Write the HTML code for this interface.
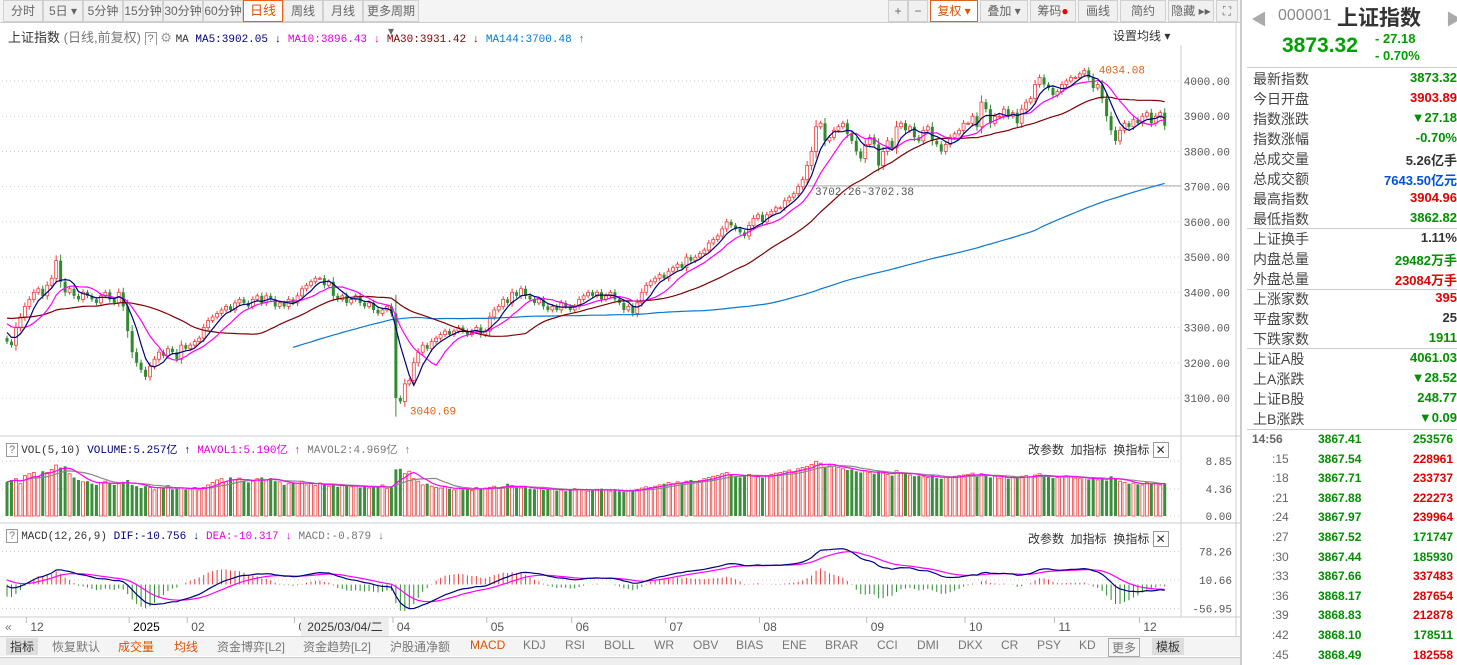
<!DOCTYPE html>
<html><head><meta charset="utf-8"><style>
*{margin:0;padding:0;box-sizing:border-box}
body{width:1457px;height:665px;overflow:hidden;background:#fff;font-family:"Liberation Sans","Noto Sans CJK SC",sans-serif;position:relative;color:#333}
.abs{position:absolute}
.tab{position:absolute;top:0;height:22px;border:1px solid #d0d0d0;background:#f0f0f0;font-size:12px;color:#666;text-align:center;line-height:20px}
.mono{font-family:"Liberation Mono","Noto Sans CJK SC",monospace}
.rp{position:absolute;left:1253px;font-size:14px;color:#444}
.bt{position:absolute;top:638px;font-size:12px;color:#777}
</style></head><body>
<div class="abs" style="left:0;top:0;width:1240px;height:23px;background:#f4f4f4;border-bottom:1px solid #ccc"></div>
<div class="tab" style="left:3px;width:40px">分时</div>
<div class="tab" style="left:43px;width:40px">5日 ▾</div>
<div class="tab" style="left:83px;width:40px">5分钟</div>
<div class="tab" style="left:123px;width:40px">15分钟</div>
<div class="tab" style="left:163px;width:40px">30分钟</div>
<div class="tab" style="left:203px;width:40px">60分钟</div>
<div class="tab" style="left:243px;width:40px;background:#fff;border:1px solid #f06010;color:#e05000;font-size:13px">日线</div>
<div class="tab" style="left:283px;width:40px">周线</div>
<div class="tab" style="left:323px;width:40px">月线</div>
<div class="tab" style="left:363px;width:56px">更多周期 ▾</div>
<div class="tab" style="left:888px;width:20px">+</div>
<div class="tab" style="left:908px;width:20px">−</div>
<div class="tab" style="left:930px;width:48px;background:#fff;color:#e05000;border-color:#e06020">复权 ▾</div>
<div class="tab" style="left:980px;width:48px">叠加 ▾</div>
<div class="tab" style="left:1030px;width:46px">筹码<span style="color:#e00">●</span></div>
<div class="tab" style="left:1078px;width:40px">画线</div>
<div class="tab" style="left:1120px;width:46px">简约</div>
<div class="tab" style="left:1168px;width:46px">隐藏 ▸▸</div>
<div class="tab" style="left:1216px;width:22px">⛶</div>

<div class="abs" style="left:8px;top:27px;font-size:13px;white-space:nowrap">上证指数 <span style="color:#777">(日线,前复权)</span> <span style="border:1px solid #999;color:#777;padding:0 2px;font-size:11px">?</span> <span style="color:#999">⚙</span> <span class="mono" style="font-size:11px">MA <span style="color:#000080">MA5:3902.05 ↓</span> <span style="color:#e000e0">MA10:3896.43 ↓</span> <span style="color:#800000">MA30:3931.42 ↓</span> <span style="color:#0078d7">MA144:3700.48 ↑</span></span></div>
<div class="abs" style="left:1113px;top:27px;font-size:12px">设置均线 ▾</div>

<svg id="chart" class="abs" style="left:0;top:0" width="1240" height="665"></svg>

<div class="abs" style="left:6px;top:441px;font-size:11px;white-space:nowrap" ><span style="border:1px solid #999;color:#777;padding:0 2px">?</span> <span class="mono">VOL(5,10) <span style="color:#000080">VOLUME:5.257亿 ↑</span> <span style="color:#e000e0">MAVOL1:5.190亿 ↑</span> <span style="color:#777">MAVOL2:4.969亿 ↑</span></span></div>
<div class="abs" style="left:1028px;top:441px;font-size:12px">改参数 &nbsp;加指标 &nbsp;换指标 <span style="border:1px solid #999;padding:0 2px">✕</span></div>
<div class="abs" style="left:6px;top:530px;font-size:11px;white-space:nowrap"><span style="border:1px solid #999;color:#777;padding:0 2px">?</span> <span class="mono">MACD(12,26,9) <span style="color:#000080">DIF:-10.756 ↓</span> <span style="color:#e000e0">DEA:-10.317 ↓</span> <span style="color:#777">MACD:-0.879 ↓</span></span></div>
<div class="abs" style="left:1028px;top:530px;font-size:12px">改参数 &nbsp;加指标 &nbsp;换指标 <span style="border:1px solid #999;padding:0 2px">✕</span></div>
<div class="abs" style="left:301px;top:618px;width:88px;height:18px;background:#eee;font-size:12px;line-height:18px;text-align:center">2025/03/04/二</div>

<div class="abs" style="left:0;top:636px;width:1240px;height:20px;background:#f4f4f4;border-top:1px solid #ccc"></div>
<div class="bt" style="left:6px;background:#ddd;padding:0 4px;color:#333">指标</div>
<div class="bt" style="left:52px">恢复默认</div>
<div class="bt" style="left:118px;color:#e05000">成交量</div>
<div class="bt" style="left:174px;color:#e05000">均线</div>
<div class="bt" style="left:217px">资金博弈[L2]</div>
<div class="bt" style="left:303px">资金趋势[L2]</div>
<div class="bt" style="left:390px">沪股通净额</div>
<div class="bt" style="left:470px;color:#e05000">MACD</div>
<div class="bt" style="left:523px">KDJ</div>
<div class="bt" style="left:565px">RSI</div>
<div class="bt" style="left:604px">BOLL</div>
<div class="bt" style="left:654px">WR</div>
<div class="bt" style="left:693px">OBV</div>
<div class="bt" style="left:736px">BIAS</div>
<div class="bt" style="left:782px">ENE</div>
<div class="bt" style="left:825px">BRAR</div>
<div class="bt" style="left:877px">CCI</div>
<div class="bt" style="left:917px">DMI</div>
<div class="bt" style="left:958px">DKX</div>
<div class="bt" style="left:1001px">CR</div>
<div class="bt" style="left:1037px">PSY</div>
<div class="bt" style="left:1079px">KD</div>
<div class="bt" style="left:1108px;border:1px solid #aaa;padding:0 3px">更多</div>
<div class="bt" style="left:1152px;background:#ddd;padding:0 4px;color:#333">模板</div>
<div class="abs" style="left:0;top:657px;width:1240px;height:8px;background:#eee;border-top:1px solid #ccc"></div>

<div class="abs" style="left:1240px;top:0;width:217px;height:665px;border-left:2px solid #ccc;background:#fff"></div>
<div class="abs" style="left:1251px;top:6px;color:#aaa;font-size:16px">◀</div>
<div class="abs" style="left:1278px;top:7px;font-size:16px;color:#888">000001</div>
<div class="abs" style="left:1337px;top:2px;font-size:21px;font-weight:bold;color:#333">上证指数</div>
<div class="abs" style="left:1446px;top:6px;color:#aaa;font-size:16px">▶</div>
<div class="abs" style="left:1282px;top:34px;font-size:21px;font-weight:bold;color:#00a000">3873.32</div>
<div class="abs" style="left:1375px;top:30px;font-size:13px;font-weight:bold;color:#00a000;line-height:17px">- 27.18<br>- 0.70%</div>
<div id="rp"></div>
<script>
// ---------------- data ----------------
const monthLabels=["12","2025","02","03","04","05","06","07","08","09","10","11","12"];
const monthStartIdx=[5,28,41,65,87,108,127,148,169,193,215,235,254];
const preCloses=[2850,2860,2840,2870,2880,2860,2850,2870,2890,2880,2860,2850,2870,2880,2890,2870,2860,2880,2900,2890,2880,2870,2890,2900,2920,2950,3000,3080,3200,3330,3480,3400,3300,3260,3250,3280,3300,3320,3280,3260,3250,3270,3300,3310,3290,3270,3260,3290,3310,3320,3300,3280,3270,3290,3330,3350,3360,3340,3320,3300,3310,3330,3350,3370,3360,3340,3330,3350,3370,3380,3360,3340,3320,3330,3350,3340,3320,3300,3280,3270];
const closes=[3260,3250,3300,3330,3360,3380,3400,3410,3390,3420,3440,3490,3430,3400,3410,3390,3380,3400,3390,3380,3370,3390,3400,3380,3370,3400,3360,3290,
3230,3200,3180,3160,3190,3210,3230,3220,3240,3230,3210,3250,3240,
3250,3260,3270,3300,3320,3330,3340,3350,3360,3350,3370,3380,3370,3360,3380,3390,3370,3390,3380,3360,3370,3360,3380,3370,
3390,3410,3420,3430,3440,3440,3420,3430,3390,3380,3390,3370,3380,3390,3370,3360,3370,3350,3340,3350,3360,3340,
3100,3090,3140,3150,3200,3230,3250,3240,3260,3270,3280,3290,3280,3290,3300,3290,3280,3290,3300,3280,3290,
3330,3350,3360,3380,3370,3400,3390,3410,3390,3380,3370,3380,3360,3350,3360,3350,3370,3360,3350,
3360,3380,3390,3400,3390,3400,3380,3390,3400,3380,3370,3350,3360,3340,3370,3400,3420,3430,3440,3450,3440,
3460,3470,3480,3470,3500,3490,3500,3510,3520,3540,3550,3560,3580,3600,3590,3580,3570,3560,3590,3610,3620,
3600,3620,3630,3640,3640,3660,3670,3680,3700,3720,3760,3800,3870,3880,3830,3840,3860,3870,3880,3850,3830,3800,3780,3820,
3840,3820,3760,3800,3830,3810,3870,3880,3860,3870,3840,3830,3860,3870,3830,3820,3800,3820,3840,3850,3860,3880,
3880,3900,3870,3940,3920,3880,3900,3900,3920,3900,3910,3880,3920,3940,3950,3990,4010,3990,3980,3960,
3970,3990,4000,4010,4010,4020,4030,4010,3980,3990,3950,3900,3860,3830,3860,3880,3870,3890,3880,
3900,3910,3880,3900,3910,3873];
const volumes=[5.5,5.8,6.0,5.2,6.5,6.8,7.0,6.3,7.2,7.0,7.5,8.2,7.8,8.0,6.8,6.2,5.8,5.5,5.6,5.2,5.0,5.4,5.6,5.3,5.0,5.2,5.5,5.8,
5.0,4.8,4.5,4.8,4.6,4.2,4.6,4.5,4.9,4.3,4.4,4.5,4.3,
4.4,4.6,4.2,4.6,5.0,5.4,5.8,6.0,5.5,6.2,5.8,6.1,5.7,5.4,5.6,6.0,6.2,5.8,6.1,5.6,5.5,5.0,5.2,5.3,
5.3,5.6,5.0,5.2,4.9,5.3,5.0,4.8,5.1,4.7,4.9,5.0,4.7,4.8,4.6,4.9,4.5,4.7,4.6,5.0,4.4,4.6,
7.5,7.6,6.8,7.2,6.0,5.6,5.0,5.2,4.8,4.6,4.5,4.7,4.4,4.2,4.5,4.3,4.4,4.1,4.6,4.3,4.5,
4.6,4.8,4.4,4.7,5.2,4.9,4.6,4.5,4.7,4.4,4.3,4.5,4.2,4.3,4.4,4.1,4.2,4.0,4.3,
4.4,4.3,4.2,4.0,4.1,4.3,4.4,4.2,4.0,4.1,4.0,3.9,4.1,4.2,4.3,4.5,4.7,4.6,4.8,5.0,5.2,
5.4,5.2,5.5,5.3,5.6,5.8,5.5,5.7,6.0,6.2,6.4,6.5,6.8,7.0,6.6,6.4,6.2,6.5,6.7,6.4,6.3,
6.2,6.5,6.7,6.9,7.0,7.2,7.4,7.0,7.6,7.8,8.0,8.3,8.8,8.5,7.9,8.2,8.0,7.8,7.6,7.4,7.5,7.2,7.0,7.3,
7.0,6.8,7.2,6.9,6.7,6.5,7.3,7.0,6.8,6.6,6.4,6.5,6.3,6.2,6.6,6.1,6.0,6.3,6.2,6.4,6.5,6.6,
6.7,6.9,6.3,6.8,6.6,6.2,6.4,6.1,6.3,6.0,6.2,6.1,6.4,6.5,6.3,6.6,6.8,6.5,6.3,6.1,
6.2,6.4,6.5,6.3,6.1,6.0,6.2,5.9,6.1,5.8,6.0,5.7,6.4,6.1,5.6,5.4,5.2,5.3,5.1,
5.0,5.4,5.2,5.3,5.0,5.26];
const priceTicks=[4000,3900,3800,3700,3600,3500,3400,3300,3200,3100];
const volTicks=[8.85,4.36,0];
const macdTicks=[78.26,10.66,-56.95];
const quoteLabels=["最新指数","今日开盘","指数涨跌","指数涨幅","总成交量","总成交额","最高指数","最低指数","上证换手","内盘总量","外盘总量","上涨家数","平盘家数","下跌家数","上证A股","上A涨跌","上证B股","上B涨跌"];
const quoteValues=["3873.32","3903.89","▼27.18","-0.70%","5.26亿手","7643.50亿元","3904.96","3862.82","1.11%","29482万手","23084万手","395","25","1911","4061.03","▼28.52","248.77","▼0.09"];
const quoteColors=["g","r","g","g","k","b","r","g","k","g","r","r","k","g","g","g","g","g"];
const tickTimes=["14:56",":15",":18",":21",":24",":27",":30",":33",":36",":39",":42",":45"];
const tickPrices=["3867.41","3867.54","3867.71","3867.88","3867.97","3867.52","3867.44","3867.66","3868.17","3868.83","3868.10","3868.49"];
const tickVols=["253576","228961","233737","222273","239964","171747","185930","337483","287654","212878","178511","182558"];
const tickVolColors=["g","r","r","r","r","g","g","r","r","r","g","r"];

// ---------------- drawing ----------------
const NS="http://www.w3.org/2000/svg";
const svg=document.getElementById('chart');
function el(tag,attrs,parent){const e=document.createElementNS(NS,tag);for(const k in attrs)e.setAttribute(k,attrs[k]);(parent||svg).appendChild(e);return e;}
const X=i=>7+i*4.47;
const PY=p=>81+(4000-p)*0.3522;
const VY=v=>516-v*(55/8.85);
const MY=m=>584.5-m*0.4216;
const RED="#f03c3c",GRN="#2e8b2e";

const fr=el('rect',{x:1,y:45,width:1180,height:572,fill:"#fff",stroke:"none"});


[[0,1181],[1181,1181]].forEach(a=>{const l=el('line',{x1:a[1],y1:45,x2:a[1],y2:617,stroke:"#ccc"});});
[436,523,617].forEach(y=>{const l=el('line',{x1:0,y1:y,x2:1240,y2:y,stroke:"#ccc"});});
const vsep=el('line',{x1:1236,y1:23,x2:1236,y2:636,stroke:"#ccc"});



priceTicks.forEach(p=>{
  const g=el('line',{x1:2,y1:PY(p),x2:1181,y2:PY(p),stroke:"#ccc","stroke-dasharray":"1,3"});
  
  
  const t=el('text',{x:1230,y:PY(p)+4,"font-size":11,fill:"#555","text-anchor":"end","font-family":"Liberation Mono"});
  t.textContent=p.toFixed(2);
  
  
});
volTicks.forEach(v=>{
  const g=el('line',{x1:2,y1:VY(v),x2:1181,y2:VY(v),stroke:"#ccc","stroke-dasharray":"1,3"});
  
  
  const t=el('text',{x:1232,y:VY(v)+4,"font-size":11,fill:"#555","text-anchor":"end","font-family":"Liberation Mono"});
  t.textContent=v.toFixed(2);
  
  
});
macdTicks.forEach(v=>{
  const g=el('line',{x1:2,y1:MY(v),x2:1181,y2:MY(v),stroke:"#ccc","stroke-dasharray":"1,3"});
  
  
  const t=el('text',{x:1232,y:MY(v)+4,"font-size":11,fill:"#555","text-anchor":"end","font-family":"Liberation Mono"});
  t.textContent=v.toFixed(2);
  
  
});
monthLabels.forEach((m,k)=>{
  const x=X(monthStartIdx[k])-3;
  const l=el('line',{x1:x,y1:617,x2:x,y2:623,stroke:"#bbb"});
  
  
  const t=el('text',{x:x+4,y:631,"font-size":12,fill:m==="2025"?"#000":"#555","font-family":"Liberation Sans"});
  t.textContent=m;
  
  
});
const scrollBtn=el('text',{x:5,y:631,"font-size":12,fill:"#777"});
scrollBtn.textContent="«";



const all=preCloses.concat(closes);const off=preCloses.length;
function ma(n,i){let s=0;for(let k=0;k<n;k++)s+=all[off+i-k];return s/n;}
function path(vals,fy,color,start,name){
  let d="";vals.forEach((v,i)=>{if(i<start||v==null)return;d+=(d?"L":"M")+X(i).toFixed(1)+","+fy(v).toFixed(1);});
  const p=el('path',{d,fill:"none",stroke:color,"stroke-width":1.2});
  
  
}
const hl=el('line',{x1:808,y1:PY(3702.3),x2:1181,y2:PY(3702.3),stroke:"#aaa"});


const hlt=el('text',{x:815,y:PY(3702.3)+9,"font-size":11,fill:"#555","font-family":"Liberation Mono"});
hlt.textContent="3702.26-3702.38";



let maxH=-1,maxI=0,minL=1e9,minI=0;
closes.forEach((c,i)=>{
  const o=i===0?preCloses[off-1]:closes[i-1];
  const up=c>=o;const hi=Math.max(o,c)+Math.abs(c-o)*0.2+5;const lo=Math.min(o,c)-Math.abs(c-o)*0.2-5;
  if(hi>maxH){maxH=hi;maxI=i;} if(lo<minL){minL=lo;minI=i;}
  const g=el('g',{});
  
  
  const col=up?RED:GRN;
  el('line',{x1:X(i),y1:PY(hi),x2:X(i),y2:PY(lo),stroke:col},g);
  const y1=PY(Math.max(o,c)),y2=PY(Math.min(o,c));
  el('rect',{x:X(i)-1.5,y:y1,width:3,height:Math.max(1,y2-y1),fill:up?"#fff":col,stroke:col,"stroke-width":up?0.8:0},g);
  const vb=el('rect',{x:X(i)-1.5,y:VY(volumes[i]),width:3,height:516-VY(volumes[i]),fill:up?"#fff":"#3a8f3a",stroke:up?RED:"none","stroke-width":0.8});
  
  
});
path(closes.map((c,i)=>ma(144,i)),PY,"#0a78d0",64,"ma144-line");
path(closes.map((c,i)=>ma(30,i)),PY,"#800000",0,"ma30-line");
path(closes.map((c,i)=>ma(10,i)),PY,"#ff00ff",0,"ma10-line");
path(closes.map((c,i)=>ma(5,i)),PY,"#000080",0,"ma5-line");
function vma(n,i){let s=0,c=0;for(let k=0;k<n;k++){if(i-k>=0){s+=volumes[i-k];c++;}}return s/c;}
path(volumes.map((v,i)=>vma(10,i)),VY,"#888",0,"mavol2-line");
path(volumes.map((v,i)=>vma(5,i)),VY,"#ff00ff",0,"mavol1-line");
const mx=el('text',{x:X(maxI)+10,y:PY(maxH)+6,"font-size":11,fill:"#e06010","font-family":"Liberation Mono"});
mx.textContent="4034.08";


const mn=el('text',{x:X(minI)+14,y:PY(minL)-2,"font-size":11,fill:"#e06010","font-family":"Liberation Mono"});
mn.textContent="3040.69";


let e12=all[0],e26=all[0],dea=0;const dif=[],deaA=[],hist=[];
all.forEach((c,k)=>{e12=e12*11/13+c*2/13;e26=e26*25/27+c*2/27;const d=e12-e26;dea=dea*8/10+d*2/10;if(k>=off){dif.push(d);deaA.push(dea);hist.push(2*(d-dea));}});
hist.forEach((h,i)=>{
  const l=el('line',{x1:X(i),y1:MY(0),x2:X(i),y2:MY(h),stroke:h>=0?RED:GRN,"stroke-width":1});
  
  
});
path(deaA,MY,"#ff00ff",0,"dea-line");
path(dif,MY,"#000080",0,"dif-line");

const rp=document.getElementById('rp');
const cmap={g:"#009000",r:"#e00000",k:"#333",b:"#0050e0"};
let html="";
quoteLabels.forEach((l,i)=>{
  const y=69+i*20;
  html+=`<div class="rp" style="top:${y}px">${l}</div>`;
  html+=`<div class="abs" style="right:0;top:${y+1}px;font-size:13px;font-weight:bold;color:${cmap[quoteColors[i]]}">${quoteValues[i]}</div>`;
});
[67,228,289,348,429].forEach(y=>{html+=`<div class="abs" style="left:1247px;top:${y}px;width:210px;height:1px;background:#ccc"></div>`;});
tickTimes.forEach((t,i)=>{
  const y=432+i*19.6;
  html+=`<div class="abs" style="left:${i?1272:1252}px;top:${y}px;font-size:12px;color:#666;font-weight:${i?'normal':'bold'}">${t}</div>`;
  html+=`<div class="abs" style="left:1318px;top:${y}px;font-size:12px;font-weight:bold;color:#009000">${tickPrices[i]}</div>`;
  html+=`<div class="abs" style="right:4px;top:${y}px;font-size:12px;font-weight:bold;color:${cmap[tickVolColors[i]]}">${tickVols[i]}</div>`;
});
rp.innerHTML=html;
</script>
</body></html>
